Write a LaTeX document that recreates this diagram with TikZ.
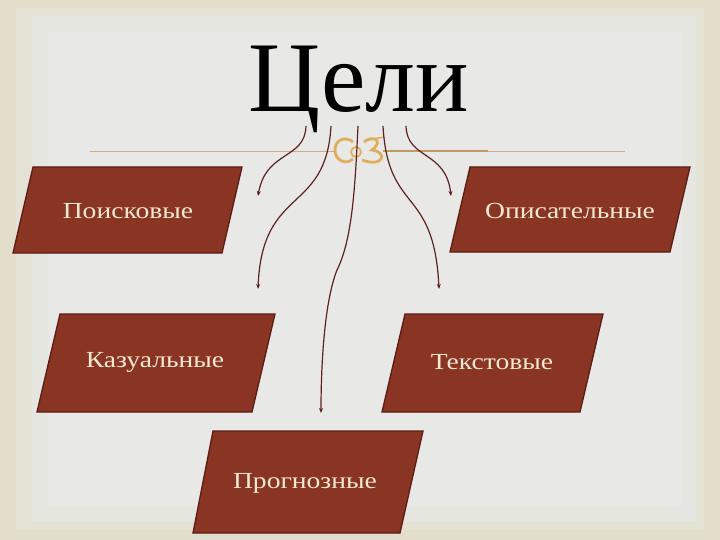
\documentclass[tikz,border=0pt]{standalone}
\usepackage{fontspec}
\setmainfont{Liberation Serif}
\newfontfamily\boxfont[FakeStretch=1.2]{Liberation Serif}
\usetikzlibrary{arrows.meta}
\definecolor{bgouter}{HTML}{E2DECB}
\definecolor{bgband}{HTML}{E4E1D5}
\definecolor{bgmid}{HTML}{E5E6DF}
\definecolor{bginner}{HTML}{E8E8E6}
\definecolor{boxfill}{HTML}{8A3524}
\definecolor{boxedge}{HTML}{5A1D15}
\definecolor{boxtext}{HTML}{F5E8D0}
\definecolor{arrowcol}{HTML}{5C2220}
\definecolor{rulecol}{HTML}{D6A980}
\definecolor{rulebold}{HTML}{C09A68}
\definecolor{ornament}{HTML}{DFAE5C}
\tikzset{
  boxshape/.style={fill=boxfill, draw=boxedge, line width=1.3pt, line join=miter},
  boxlabel/.style={text=boxtext, font=\boxfont\fontsize{23}{27}\selectfont, inner sep=0pt},
  goal/.style={draw=arrowcol, line width=1.2pt, -{Stealth[length=5pt,width=4pt]}},
}
\begin{document}
\begin{tikzpicture}[x=1pt,y=-1pt]
\useasboundingbox (0,0) rectangle (720,540);
% background
\fill[bgouter] (0,0) rectangle (720,540);
\fill[bgband] (16,8) rectangle (704,530);
\fill[bgmid] (32,16) rectangle (696,522);
\fill[bginner] (48,32) rectangle (682,506);

% title
\node[anchor=base, font=\fontsize{100}{110}\selectfont, inner sep=0pt] (title) at (359,112) {Цели};

% decorative rule
\draw[rulecol, line width=0.9pt] (90,151) -- (336,151);
\draw[rulebold, line width=1.6pt] (383,151) -- (488,151);
\draw[rulecol, line width=0.9pt] (488,151) -- (625,151);
% ornament
\draw[ornament, line width=2.8pt] (353,142) .. controls (346,136) and (335,139) .. (335,150)
  .. controls (335,161) and (346,165) .. (353,159);
\draw[ornament, line width=1.8pt] (356,152) circle[radius=5];
\draw[ornament, line width=2.8pt] (364,142) .. controls (372,135) and (385,140) .. (372,150)
  .. controls (388,152) and (384,168) .. (362,160);
\draw[ornament, line width=1.5pt] (372,139) -- (385,137);

% boxes
\filldraw[boxshape] (33,167) -- (242,167) -- (222,253) -- (13,253) -- cycle;
\node[boxlabel] (poisk) at (128,211) {Поисковые};
\filldraw[boxshape] (470,167) -- (690,167) -- (670,252) -- (450,252) -- cycle;
\node[boxlabel] (opis) at (570,211) {Описательные};
\filldraw[boxshape] (60,314) -- (275,314) -- (252,412) -- (37,412) -- cycle;
\node[boxlabel] (kaz) at (155,362) {Казуальные};
\filldraw[boxshape] (405,314) -- (603,314) -- (580,412) -- (382,412) -- cycle;
\node[boxlabel] (text) at (492,362) {Текстовые};
\filldraw[boxshape] (213,431) -- (423,431) -- (400,533) -- (193,533) -- cycle;
\node[boxlabel] (prog) at (305,483) {Прогнозные};

% connector end points
\coordinate (s1) at (306,126);
\coordinate (s2) at (331,126);
\coordinate (s3) at (358,126);
\coordinate (s4) at (383,126);
\coordinate (s5) at (406,126);
\coordinate (e1) at (258,196);
\coordinate (e2) at (258,289);
\coordinate (e3) at (321,413);
\coordinate (e4) at (439,289);
\coordinate (e5) at (451,196);

\draw[goal] (s1) .. controls (305,160) and (266,150) .. (e1);
\draw[goal] (s2) .. controls (326,215) and (262,185) .. (e2);
\draw[goal] (s3) .. controls (355,190) and (352,240) .. (337,270) .. controls (325,300) and (321,360) .. (e3);
\draw[goal] (s4) .. controls (388,215) and (434,185) .. (e4);
\draw[goal] (s5) .. controls (407,160) and (446,150) .. (e5);
\end{tikzpicture}
\end{document}
